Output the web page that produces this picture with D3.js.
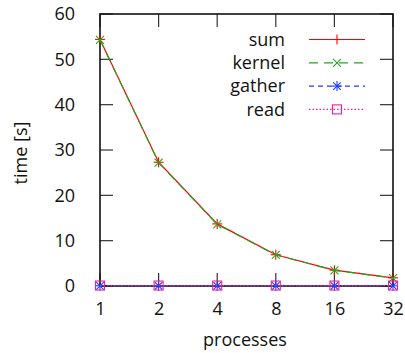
<!DOCTYPE html>
<html>
<head>
<meta charset="utf-8">
<script src="https://cdn.jsdelivr.net/npm/d3@7"></script>
<style>
  html, body { margin: 0; padding: 0; background: #fff; }
  svg text { font-family: "Open Sans", sans-serif; fill: #111; }
</style>
</head>
<body>
<svg id="chart" width="405" height="353"></svg>
<script>
// Run time per stage versus number of processes
const processes = [1, 2, 4, 8, 16, 32];
const sumTime    = [54.4, 27.3, 13.7, 6.9, 3.5, 1.8];
const kernelTime = [54.3, 27.2, 13.6, 6.85, 3.45, 1.75];
const gatherTime = [0.05, 0.05, 0.05, 0.05, 0.05, 0.05];
const readTime   = [0.1, 0.1, 0.1, 0.1, 0.1, 0.1];
const seriesNames = ["sum", "kernel", "gather", "read"];
const yTicks = [0, 10, 20, 30, 40, 50, 60];

const series = [
  { name: seriesNames[0], values: sumTime,    color: "#ff0000", dash: null,  marker: "plus" },
  { name: seriesNames[1], values: kernelTime, color: "#1faa1f", dash: "9,6", marker: "cross" },
  { name: seriesNames[2], values: gatherTime, color: "#1f3cff", dash: "5,4", marker: "star" },
  { name: seriesNames[3], values: readTime,   color: "#e8209a", dash: "1.5,2", marker: "box" }
];

const svg = d3.select("#chart");
const m = { left: 100, right: 393, top: 14, bottom: 286 };

const x = d3.scaleLog().base(2).domain([1, 32]).range([m.left, m.right]);
const y = d3.scaleLinear().domain([0, 60]).range([m.bottom, m.top]);

const tickLen = 13;
const tickColor = "#333";
const fontSize = 18;

// inward ticks on all four sides
const axisG = svg.append("g");
yTicks.forEach(v => {
  axisG.append("line").attr("x1", m.left).attr("x2", m.left + tickLen)
    .attr("y1", y(v)).attr("y2", y(v)).attr("stroke", tickColor).attr("stroke-width", 1.2);
  axisG.append("line").attr("x1", m.right).attr("x2", m.right - tickLen)
    .attr("y1", y(v)).attr("y2", y(v)).attr("stroke", tickColor).attr("stroke-width", 1.2);
});
processes.forEach(p => {
  axisG.append("line").attr("x1", x(p)).attr("x2", x(p))
    .attr("y1", m.bottom).attr("y2", m.bottom - tickLen).attr("stroke", tickColor).attr("stroke-width", 1.2);
  axisG.append("line").attr("x1", x(p)).attr("x2", x(p))
    .attr("y1", m.top).attr("y2", m.top + tickLen).attr("stroke", tickColor).attr("stroke-width", 1.2);
});

// tick labels via d3 axes (lines hidden, only text kept)
const yAxis = svg.append("g").attr("transform", `translate(${m.left},0)`)
  .call(d3.axisLeft(y).tickValues(yTicks).tickSize(0).tickPadding(25));
const xAxis = svg.append("g").attr("transform", `translate(0,${m.bottom})`)
  .call(d3.axisBottom(x).tickValues(processes).tickFormat(d3.format("d")).tickSize(0).tickPadding(16));
[yAxis, xAxis].forEach(g => {
  g.select(".domain").remove();
  g.selectAll("text").attr("font-size", fontSize).attr("font-family", "Open Sans, sans-serif").attr("fill", "#111");
});

// frame
svg.append("rect").attr("x", m.left).attr("y", m.top)
  .attr("width", m.right - m.left).attr("height", m.bottom - m.top)
  .attr("fill", "none").attr("stroke", "#111").attr("stroke-width", 1.6);

// axis titles
svg.append("text").attr("x", 245).attr("y", 346)
  .attr("text-anchor", "middle").attr("font-size", fontSize).text("processes");
svg.append("text").attr("transform", `translate(27,153) rotate(-90)`)
  .attr("text-anchor", "middle").attr("font-size", fontSize).text("time [s]");

function drawMarker(g, kind, cx, cy, color) {
  const s = 5;
  const add = (x1, y1, x2, y2) => g.append("line")
    .attr("x1", cx + x1).attr("y1", cy + y1).attr("x2", cx + x2).attr("y2", cy + y2)
    .attr("stroke", color).attr("stroke-width", 1.1);
  if (kind === "plus") { add(-s, 0, s, 0); add(0, -s, 0, s); }
  else if (kind === "cross") { add(-s * 0.8, -s * 0.8, s * 0.8, s * 0.8); add(-s * 0.8, s * 0.8, s * 0.8, -s * 0.8); }
  else if (kind === "star") {
    add(-s, 0, s, 0); add(0, -s, 0, s);
    add(-s * 0.75, -s * 0.75, s * 0.75, s * 0.75); add(-s * 0.75, s * 0.75, s * 0.75, -s * 0.75);
  } else if (kind === "box") {
    g.append("rect").attr("x", cx - 4.5).attr("y", cy - 4.5).attr("width", 9).attr("height", 9)
      .attr("fill", "none").attr("stroke", color).attr("stroke-width", 1.1);
  }
}

const line = d3.line().x(d => x(d.p)).y(d => y(d.v));
const plotG = svg.append("g");
series.forEach(s => {
  const pts = processes.map((p, i) => ({ p, v: s.values[i] }));
  plotG.append("path").datum(pts).attr("d", line)
    .attr("fill", "none").attr("stroke", s.color).attr("stroke-width", 1.2)
    .attr("stroke-dasharray", s.dash);
  pts.forEach(d => drawMarker(plotG, s.marker, x(d.p), y(d.v), s.color));
});

// legend
const legG = svg.append("g");
series.forEach((s, i) => {
  const ly = 39.5 + i * 23.3;
  legG.append("text").attr("x", 285).attr("y", ly).attr("dy", "0.35em")
    .attr("text-anchor", "end").attr("font-size", fontSize).text(s.name);
  legG.append("line").attr("x1", 309).attr("x2", 365).attr("y1", ly).attr("y2", ly)
    .attr("stroke", s.color).attr("stroke-width", 1.2).attr("stroke-dasharray", s.dash);
  drawMarker(legG, s.marker, 337, ly, s.color);
});
</script>
</body>
</html>
